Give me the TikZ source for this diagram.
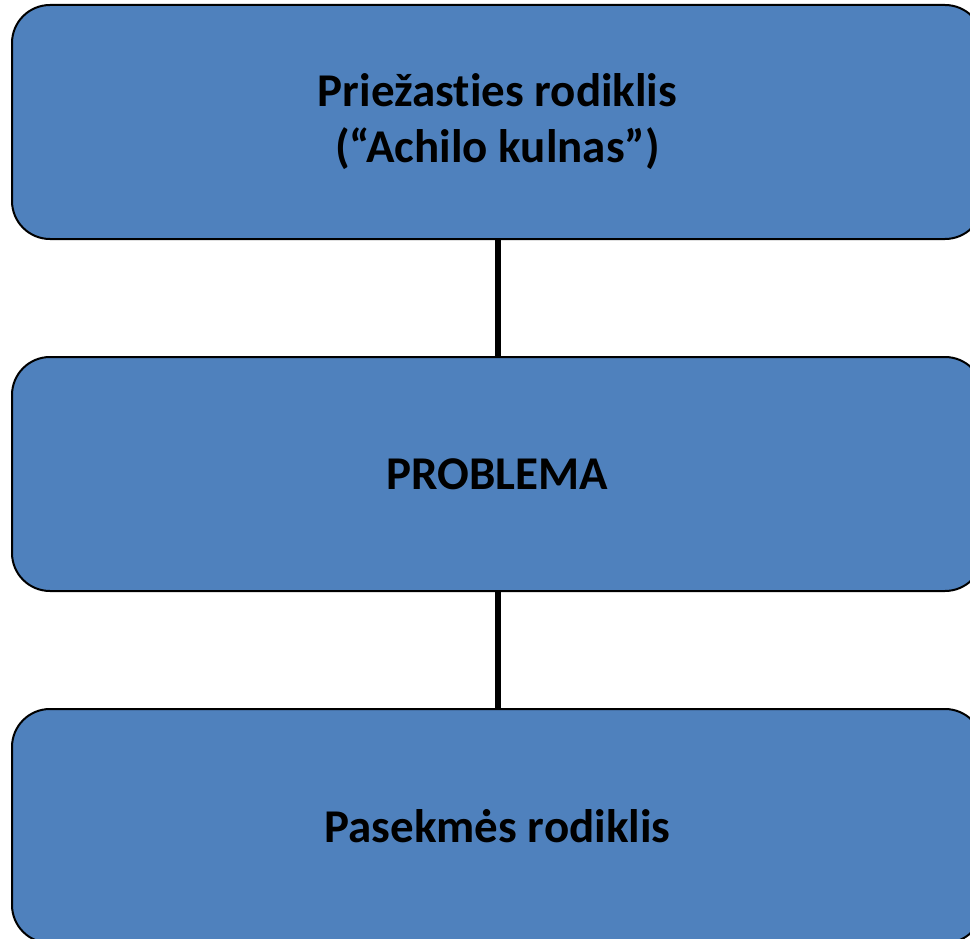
\documentclass[tikz,border=0pt]{standalone}
\usepackage{fontspec}
\setmainfont[Ligatures={NoCommon}]{Carlito}
\begin{document}
\begin{tikzpicture}[x=1pt,y=-1pt,
  box/.style={draw=black,line width=2pt,fill=boxblue,rounded corners=38pt,
    minimum width=971pt,minimum height=234pt,inner sep=0pt,align=center,
    font=\fontsize{47}{56}\selectfont\bfseries},
  link/.style={draw=black,line width=6pt}]
\definecolor{boxblue}{HTML}{4F81BD}
\useasboundingbox (0,0) rectangle (970,939);
\clip (0,0) rectangle (970,939);
\node[box] (cause) at (497.5,122) {Priežast\kern0pt ies rodiklis\\(“Achilo kulnas”)};
\node[box] (problem) at (497.5,474) {PROBLEMA};
\node[box] (effect) at (497.5,826) {Pasekmės rodiklis};
\draw[link] (cause.south) -- (problem.north);
\draw[link] (problem.south) -- (effect.north);
\end{tikzpicture}
\end{document}
